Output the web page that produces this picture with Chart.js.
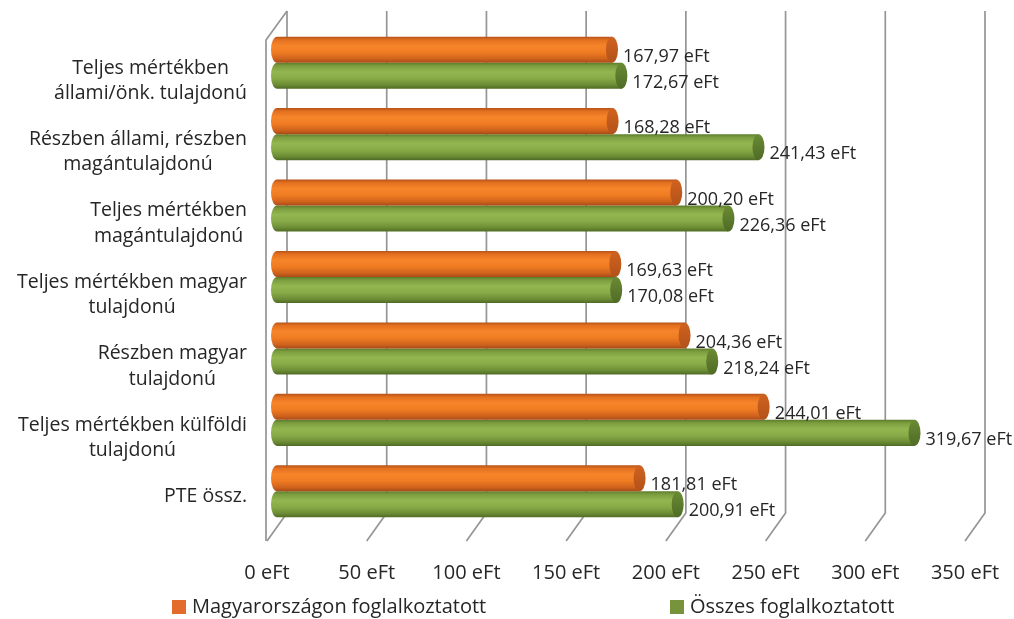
<!DOCTYPE html>
<html><head><meta charset="utf-8">
<script src="https://cdn.jsdelivr.net/npm/chart.js@4.4.1/dist/chart.umd.min.js"></script>
<style>html,body{margin:0;padding:0;background:#fff;}#wrap{width:1014px;height:619px;position:relative;}</style>
</head><body><div id="wrap"><canvas id="c" width="1014" height="619"></canvas></div>
<script>
const categories = [
  ["Teljes mértékben", "állami/önk. tulajdonú"],
  ["Részben állami, részben", "magántulajdonú"],
  ["Teljes mértékben", "magántulajdonú"],
  ["Teljes mértékben magyar", "tulajdonú"],
  ["Részben magyar", "tulajdonú"],
  ["Teljes mértékben külföldi", "tulajdonú"],
  ["PTE össz."]
];
const seriesNames = ["Magyarországon foglalkoztatott", "Összes foglalkoztatott"];
const hungaryValues = [167.97, 168.28, 200.20, 169.63, 204.36, 244.01, 181.81];
const totalValues = [172.67, 241.43, 226.36, 170.08, 218.24, 319.67, 200.91];
const xTickValues = [0, 50, 100, 150, 200, 250, 300, 350];
const unit = "eFt";

const FONT = "'Open Sans', 'DejaVu Sans', sans-serif";
const TEXT = '#262626';
const CAT_PCT = 0.729;
const DEPTH = 10;
const palettes = [
  {stops: [[0,'#b4521a'],[0.12,'#e2701f'],[0.35,'#f6852a'],[0.6,'#f07c22'],[0.85,'#cf631d'],[1,'#a84a16']], cap: ['#d0621f','#b2521a'], legend: '#e46c2a'},
  {stops: [[0,'#5d7c2c'],[0.12,'#7c9d3e'],[0.35,'#93b651'],[0.6,'#89ab47'],[0.85,'#6c8c35'],[1,'#4f6a24']], cap: ['#6a8b34','#4f6b26'], legend: '#77933c'}
];
const fmt = v => v.toFixed(2).replace('.', ',') + ' ' + unit;

function makeGrad(ctx, top, bottom, stops) {
  const g = ctx.createLinearGradient(0, top, 0, bottom);
  stops.forEach(s => g.addColorStop(s[0], s[1]));
  return g;
}
function barFill(ds) {
  return (c) => {
    const chart = c.chart;
    const ys = chart.scales && chart.scales.y;
    if (!ys || c.dataIndex === undefined || !chart.chartArea) return palettes[ds].legend;
    const center = ys.getPixelForValue(c.dataIndex);
    const t = ys.height / categories.length * CAT_PCT / 2;
    const top = ds === 0 ? center - t : center;
    return makeGrad(chart.ctx, top, top + t, palettes[ds].stops);
  };
}

const wallPlugin = {
  id: 'wall',
  beforeDatasetsDraw(chart) {
    const {ctx, chartArea: a, scales: {x}} = chart;
    const backTop = a.top - 16, backBot = a.bottom - 14, frontBot = a.bottom + 14, frontTop = a.top + 13;
    ctx.save();
    ctx.strokeStyle = '#959595'; ctx.lineWidth = 1.7;
    xTickValues.forEach(v => {
      const p = x.getPixelForValue(v);
      ctx.beginPath(); ctx.moveTo(p + DEPTH, backTop); ctx.lineTo(p + DEPTH, backBot); ctx.lineTo(p - DEPTH, frontBot); ctx.stroke();
    });
    const p0 = x.getPixelForValue(0);
    ctx.beginPath(); ctx.moveTo(p0 + DEPTH, backTop); ctx.lineTo(p0 - DEPTH - 1, frontTop); ctx.lineTo(p0 - DEPTH - 1, frontBot); ctx.stroke();
    ctx.restore();
  }
};

const capPlugin = {
  id: 'caps',
  afterDatasetsDraw(chart) {
    const ctx = chart.ctx;
    ctx.save();
    chart.data.datasets.forEach((d, di) => {
      const meta = chart.getDatasetMeta(di);
      meta.data.forEach((el, i) => {
        const p = el.getProps(['x', 'y', 'base', 'height'], true);
        const h = p.height, top = p.y - h / 2, rx = 6;
        ctx.beginPath();
        ctx.ellipse(p.base, p.y, rx, h / 2, 0, Math.PI / 2, Math.PI * 1.5);
        ctx.closePath();
        ctx.fillStyle = makeGrad(ctx, top, top + h, palettes[di].stops);
        ctx.fill();
        ctx.beginPath();
        ctx.ellipse(p.x, p.y, rx, h / 2, 0, 0, Math.PI * 2);
        ctx.fillStyle = makeGrad(ctx, top, top + h, [[0, palettes[di].cap[0]], [1, palettes[di].cap[1]]]);
        ctx.fill();
        ctx.fillStyle = TEXT;
        ctx.font = "18px " + FONT;
        ctx.textAlign = 'left'; ctx.textBaseline = 'middle';
        ctx.fillText(fmt(d.data[i]), p.x + 11, p.y + 7);
      });
    });
    ctx.restore();
  }
};

// category labels: each label block right-aligned, its lines centred within the block
const LABEL_RIGHT = 247, LABEL_LH = 25.4, LABEL_DY = 18;
const catLabelPlugin = {
  id: 'catLabels',
  afterDraw(chart) {
    const ctx = chart.ctx, ys = chart.scales.y;
    ctx.save();
    ctx.font = "19.5px " + FONT;
    ctx.fillStyle = TEXT;
    ctx.textAlign = 'center'; ctx.textBaseline = 'middle';
    ys.getLabels().forEach((lab, i) => {
      const lines = Array.isArray(lab) ? lab : [lab];
      const w = Math.max(...lines.map(l => ctx.measureText(l).width));
      const cx = LABEL_RIGHT - w / 2;
      const c = ys.getPixelForValue(i) + LABEL_DY;
      const n = Math.max(lines.length, 2);
      lines.forEach((l, k) => ctx.fillText(l, cx, c - (n - 1) * LABEL_LH / 2 + k * LABEL_LH));
    });
    ctx.restore();
  }
};

const legendPos = [{x: 172, y: 600}, {x: 670, y: 600}];
const legendPlugin = {
  id: 'customLegend',
  afterDraw(chart) {
    const ctx = chart.ctx;
    ctx.save();
    ctx.font = "20px " + FONT;
    ctx.textAlign = 'left'; ctx.textBaseline = 'middle';
    chart.data.datasets.forEach((d, i) => {
      const p = legendPos[i];
      ctx.fillStyle = palettes[i].legend;
      ctx.fillRect(p.x, p.y, 14, 14);
      ctx.fillStyle = TEXT;
      ctx.fillText(d.label, p.x + 20, p.y + 7);
    });
    ctx.restore();
  }
};

new Chart(document.getElementById('c'), {
  type: 'bar',
  data: {
    labels: categories,
    datasets: [
      {label: seriesNames[0], data: hungaryValues, backgroundColor: barFill(0), borderWidth: 0},
      {label: seriesNames[1], data: totalValues, backgroundColor: barFill(1), borderWidth: 0}
    ]
  },
  options: {
    indexAxis: 'y',
    responsive: false,
    devicePixelRatio: 1,
    animation: false,
    categoryPercentage: CAT_PCT,
    barPercentage: 1,
    layout: {padding: {left: 0, right: 39, top: 27, bottom: 0}},
    plugins: {legend: {display: false}, tooltip: {enabled: false}},
    scales: {
      x: {
        min: 0, max: 350,
        grid: {display: false, drawTicks: false},
        border: {display: false},
        afterBuildTicks: (s) => { s.ticks = xTickValues.map(v => ({value: v})); },
        afterFit: (s) => { s.height = 92; s.paddingLeft = 0; s.paddingRight = 0; },
        ticks: {
          callback: (v) => v + ' ' + unit,
          color: TEXT, font: {family: FONT, size: 20},
          padding: 34, labelOffset: -DEPTH, maxRotation: 0, autoSkip: false
        }
      },
      y: {
        grid: {display: false, drawTicks: false},
        border: {display: false},
        afterFit: (s) => { s.width = 277; s.paddingTop = 0; s.paddingBottom = 0; },
        ticks: {display: false, autoSkip: false}
      }
    }
  },
  plugins: [wallPlugin, capPlugin, catLabelPlugin, legendPlugin]
});
</script>
</body></html>
